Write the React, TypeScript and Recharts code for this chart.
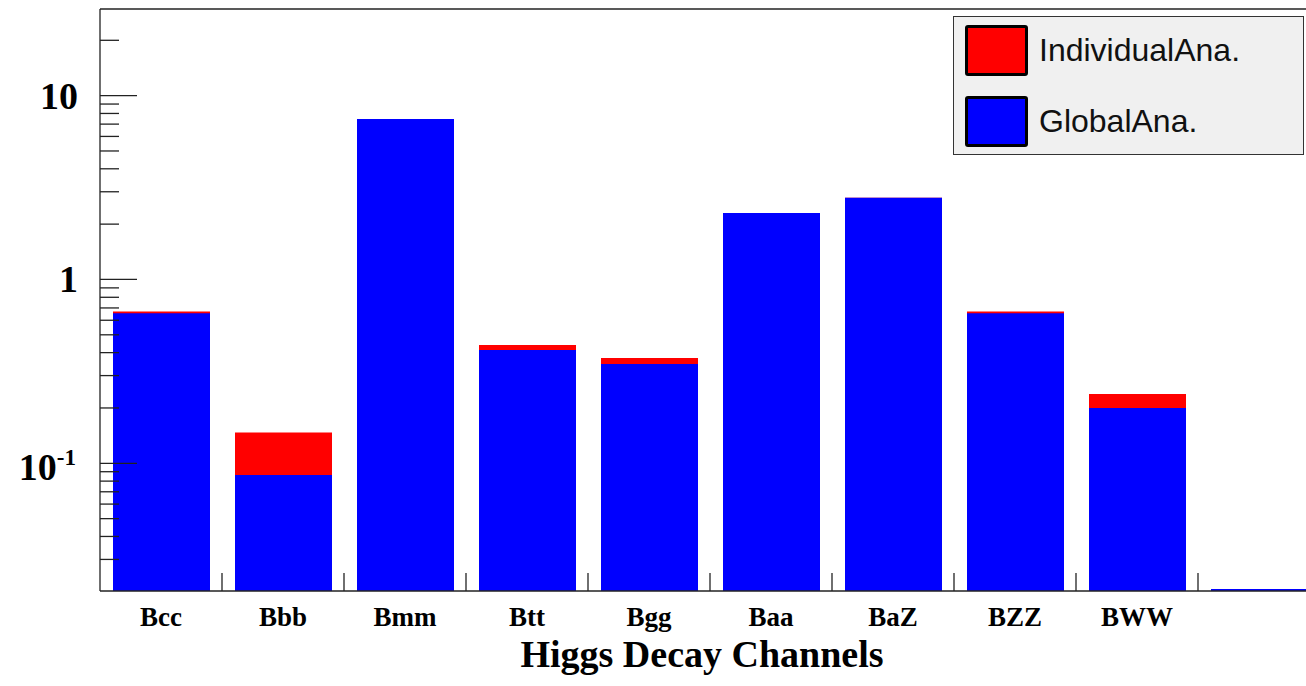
import React from 'react';
import { BarChart, Bar, XAxis, YAxis, Legend, Label } from 'recharts';

// ---- data ----
const categories = ['Bcc', 'Bbb', 'Bmm', 'Btt', 'Bgg', 'Baa', 'BaZ', 'BZZ', 'BWW', ''];
const individualAna = [0.67, 0.147, 7.47, 0.44, 0.374, 2.3, 2.78, 0.67, 0.238, null];
const globalAna = [0.655, 0.0864, 7.47, 0.413, 0.347, 2.3, 2.78, 0.655, 0.2, 0.0207];
const binCenters = [0.5, 1.5, 2.5, 3.5, 4.5, 5.5, 6.5, 7.5, 8.5, 9.5];
const binEdges = [1, 2, 3, 4, 5, 6, 7, 8, 9];
const yTicks = [
  0.03, 0.04, 0.05, 0.06, 0.07, 0.08, 0.09,
  0.1, 0.2, 0.3, 0.4, 0.5, 0.6, 0.7, 0.8, 0.9,
  1, 2, 3, 4, 5, 6, 7, 8, 9,
  10, 20,
];
const yMajor = [0.1, 1, 10];
const yDomain = [0.0202, 29.6];
const seriesNames = ['IndividualAna.', 'GlobalAna.'];
const seriesColors = ['#ff0000', '#0000ff'];
const xTitle = 'Higgs Decay Channels';

const data = categories.map((c, i) => ({
  name: c,
  idx: binCenters[i],
  ind: individualAna[i],
  glob: globalAna[i],
}));

const SERIF = '"Liberation Serif", "Times New Roman", serif';
const SANS = '"Liberation Sans", Arial, Helvetica, sans-serif';
const AXIS = '#222';

function YTick(props: any) {
  const { x, y, payload } = props;
  const v = payload.value;
  const major = yMajor.includes(v);
  const len = major ? 37 : 19;
  let label: React.ReactNode = null;
  if (v === 10 || v === 1) {
    label = (
      <text x={x - 22} y={y + 13} textAnchor="end" fontFamily={SERIF} fontWeight="bold" fontSize={38} fill="#000">
        {v === 10 ? '10' : '1'}
      </text>
    );
  } else if (v === 0.1) {
    label = (
      <text x={x - 24} y={y + 16.5} textAnchor="end" fontFamily={SERIF} fontWeight="bold" fontSize={38} fill="#000">
        <tspan>10</tspan>
        <tspan fontSize={23} dy={-15}>-1</tspan>
      </text>
    );
  }
  return (
    <g>
      <line x1={x} x2={x + len} y1={y} y2={y} stroke={AXIS} strokeWidth={1.3} />
      {label}
    </g>
  );
}

function EmptyTick() {
  return <g />;
}

function renderTitle(props: any) {
  const vb = props.viewBox || {};
  return (
    <text
      x={vb.x + vb.width / 2 - 8}
      y={vb.y + vb.height - 19}
      textAnchor="middle"
      fontFamily={SERIF}
      fontWeight="bold"
      fontSize={38}
      fill="#000"
    >
      {xTitle}
    </text>
  );
}

function LegendBox(props: any) {
  const payload = [...(props.payload || [])].sort(
    (a: any, b: any) => seriesNames.indexOf(a.value) - seriesNames.indexOf(b.value)
  );
  return (
    <div
      style={{
        width: 351,
        height: 139,
        boxSizing: 'border-box',
        background: '#f0f0f0',
        border: '1px solid #333',
        position: 'relative',
      }}
    >
      {payload.map((p: any, i: number) => (
        <div key={i}>
          <div
            style={{
              position: 'absolute',
              left: 11,
              top: 8 + i * 71,
              width: 63,
              height: 51,
              boxSizing: 'border-box',
              border: '3px solid #000',
              borderRadius: 3,
              background: p.color,
            }}
          />
          <div
            style={{
              position: 'absolute',
              left: 85,
              top: 8 + i * 71,
              height: 51,
              lineHeight: '51px',
              fontFamily: SANS,
              fontSize: 32,
              color: '#111',
              whiteSpace: 'nowrap',
            }}
          >
            {p.value}
          </div>
        </div>
      ))}
    </div>
  );
}

export default function App() {
  return (
    <div
      style={{
        position: 'absolute',
        left: 0,
        top: 0,
        width: 1306,
        height: 686,
        overflow: 'hidden',
        background: '#fff',
      }}
    >
      <BarChart
        width={1320}
        height={686}
        data={data}
        margin={{ top: 8, right: 0, bottom: 0, left: 0 }}
        barSize={97}
        barGap={-97}
      >
        <XAxis
          xAxisId="top"
          orientation="top"
          type="number"
          dataKey="idx"
          domain={[0, 10]}
          allowDataOverflow
          height={1}
          tick={false}
          tickLine={false}
          axisLine={{ stroke: AXIS, strokeWidth: 1.3 }}
        />
        <XAxis
          xAxisId="cat"
          dataKey="name"
          height={95}
          interval={0}
          tickSize={0}
          tickMargin={16}
          tickLine={false}
          axisLine={{ stroke: AXIS, strokeWidth: 1.3 }}
          tick={{ fill: '#000', fontFamily: SERIF, fontWeight: 'bold', fontSize: 27 }}
        >
          <Label content={renderTitle} />
        </XAxis>
        <XAxis
          xAxisId="edges"
          type="number"
          dataKey="idx"
          domain={[0, 10]}
          allowDataOverflow
          ticks={binEdges}
          mirror
          height={18}
          tickSize={18}
          tick={<EmptyTick />}
          tickLine={{ stroke: AXIS, strokeWidth: 1.3 }}
          axisLine={false}
        />
        <YAxis
          scale="log"
          type="number"
          domain={yDomain}
          allowDataOverflow
          ticks={yTicks}
          width={100}
          tickSize={0}
          tickMargin={0}
          tickLine={false}
          interval={0}
          tick={<YTick />}
          axisLine={{ stroke: AXIS, strokeWidth: 1.3 }}
        />
        <Legend
          layout="horizontal"
          verticalAlign="middle"
          align="center"
          wrapperStyle={{ left: 953, top: 16, width: 351, height: 139 }}
          content={<LegendBox />}
        />
        <Bar
          xAxisId="cat"
          dataKey="ind"
          name={seriesNames[0]}
          fill={seriesColors[0]}
          isAnimationActive={false}
        />
        <Bar
          xAxisId="cat"
          dataKey="glob"
          name={seriesNames[1]}
          fill={seriesColors[1]}
          isAnimationActive={false}
        />
      </BarChart>
    </div>
  );
}
